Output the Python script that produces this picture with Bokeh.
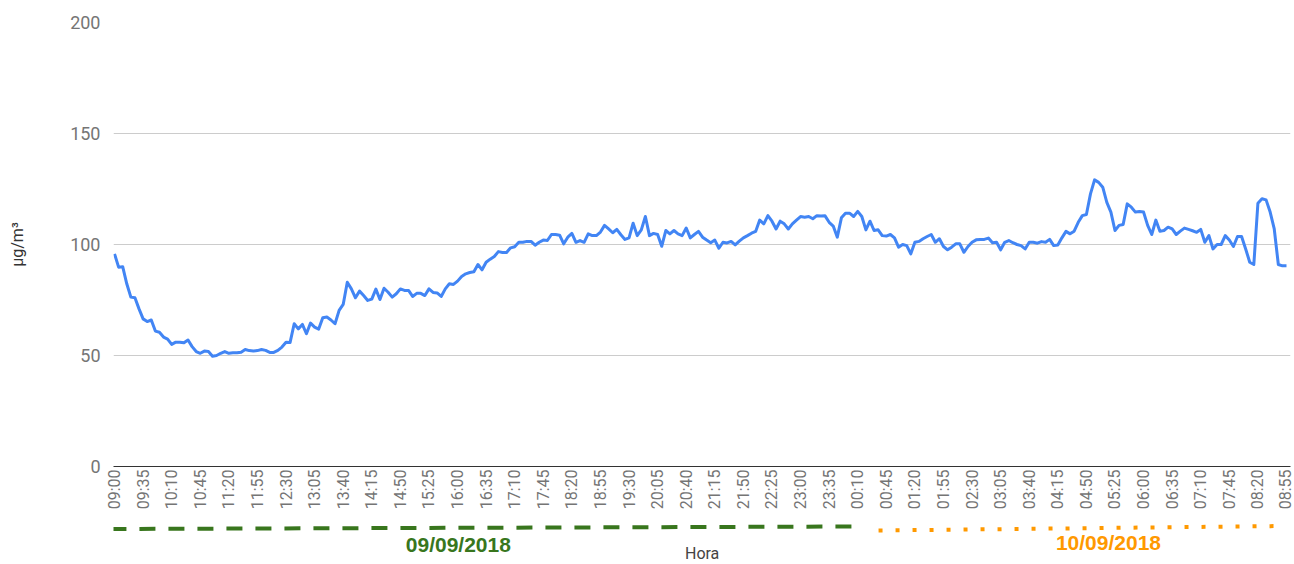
import math
from bokeh.plotting import figure
from bokeh.models import Range1d, FixedTicker, ColumnDataSource
from bokeh.layouts import column
from bokeh.core.properties import value
from bokeh.embed import file_html
from bokeh.resources import INLINE

# ---- data ----
tick_labels = ["09:00", "09:35", "10:10", "10:45", "11:20", "11:55", "12:30", "13:05",
               "13:40", "14:15", "14:50", "15:25", "16:00", "16:35", "17:10", "17:45",
               "18:20", "18:55", "19:30", "20:05", "20:40", "21:15", "21:50", "22:25",
               "23:00", "23:35", "00:10", "00:45", "01:20", "01:55", "02:30", "03:05",
               "03:40", "04:15", "04:50", "05:25", "06:00", "06:35", "07:10", "07:45",
               "08:20", "08:55"]
tick_every = 7  # one label every 7 samples (35 min at 5-min sampling)

pm_values = [
    95.8, 89.8, 90.0, 82.3, 76.3, 76.0, 71.0, 66.5, 65.3, 66.0,
    61.0, 60.5, 58.3, 57.4, 55.0, 56.0, 56.0, 55.7, 57.0, 54.0,
    51.8, 51.0, 52.0, 51.8, 49.7, 50.0, 51.0, 51.8, 51.0, 51.2,
    51.2, 51.5, 52.7, 52.2, 52.0, 52.2, 52.7, 52.3, 51.4, 51.4,
    52.3, 53.8, 56.0, 55.9, 64.3, 62.0, 64.0, 59.8, 64.6, 62.8,
    61.9, 67.0, 67.3, 66.0, 64.3, 70.3, 73.0, 83.0, 80.0, 76.0,
    79.0, 77.0, 74.8, 75.4, 79.9, 75.2, 80.3, 78.5, 76.3, 77.8,
    80.0, 79.3, 79.3, 76.6, 78.0, 78.0, 77.0, 80.0, 78.4, 78.2,
    76.6, 80.0, 82.3, 82.0, 83.5, 85.6, 86.8, 87.4, 87.7, 91.0,
    88.6, 92.0, 93.4, 94.6, 96.8, 96.4, 96.4, 98.5, 99.0, 101.0,
    101.0, 101.4, 101.4, 99.7, 101.0, 102.0, 101.8, 104.5, 104.5, 104.2,
    100.3, 103.3, 105.0, 101.0, 101.8, 101.0, 104.8, 104.0, 104.0, 105.6,
    108.6, 107.0, 105.3, 106.8, 104.4, 102.3, 103.0, 109.6, 104.0, 106.6,
    112.6, 104.0, 105.0, 104.5, 99.2, 106.3, 104.8, 106.3, 104.8, 104.0,
    107.4, 103.0, 104.5, 105.9, 103.3, 102.0, 100.8, 102.0, 98.3, 101.0,
    100.7, 101.4, 99.8, 101.5, 103.0, 104.0, 105.1, 105.9, 111.0, 109.3,
    113.0, 110.5, 107.0, 110.5, 109.3, 107.0, 109.3, 111.0, 112.6, 112.3,
    112.6, 111.6, 113.0, 112.8, 112.9, 110.0, 108.3, 103.3, 112.0, 114.1,
    114.1, 112.6, 114.9, 112.6, 106.6, 110.5, 106.3, 106.6, 104.0, 103.8,
    104.5, 103.0, 98.8, 100.0, 99.5, 95.8, 101.0, 101.4, 102.6, 103.6,
    104.5, 101.0, 102.6, 99.1, 97.6, 98.8, 100.3, 100.3, 96.5, 99.1,
    101.0, 102.1, 102.3, 102.3, 102.9, 100.8, 101.0, 97.6, 101.0, 101.8,
    100.8, 100.0, 99.5, 98.0, 101.0, 101.0, 100.6, 101.3, 101.0, 102.3,
    99.5, 99.8, 103.0, 105.9, 104.8, 106.0, 110.0, 113.0, 113.5, 122.8,
    129.1, 128.0, 125.8, 119.0, 114.6, 106.3, 108.6, 109.0, 118.3, 116.8,
    114.6, 114.9, 114.6, 108.6, 104.5, 111.0, 106.0, 106.3, 107.8, 107.0,
    104.5, 106.0, 107.4, 106.8, 106.2, 105.5, 106.8, 101.0, 104.0, 98.0,
    100.0, 100.0, 104.0, 102.0, 99.1, 103.6, 103.6, 98.0, 92.0, 91.0,
    118.6, 120.6, 120.1, 114.6, 107.0, 91.0, 90.4, 90.4,
]

y_ticks = [0, 50, 100, 150, 200]
day_labels = ["09/09/2018", "10/09/2018"]
day_colors = ["#38761d", "#ff9900"]
y_title = "µg/m³"
x_title = "Hora"

# ---- main chart ----
n = len(pm_values)
xs = list(range(n))
x_range = Range1d(-0.25, (n - 1) + 0.98)

p = figure(width=1294, height=520, x_range=x_range, y_range=Range1d(0, 200),
           output_backend="svg", toolbar_location=None,
           min_border_left=113, min_border_right=4, min_border_top=22, min_border_bottom=54)
p.outline_line_color = None
p.background_fill_color = "white"
p.border_fill_color = "white"

src = ColumnDataSource(dict(x=xs, y=pm_values))
p.line("x", "y", source=src, line_color="#4285f4", line_width=3, line_join="round")

# y axis
p.yaxis.ticker = FixedTicker(ticks=y_ticks)
p.yaxis.axis_line_color = None
p.yaxis.major_tick_line_color = None
p.yaxis.minor_tick_line_color = None
p.yaxis.major_tick_out = 0
p.yaxis.major_label_standoff = 13
p.yaxis.major_label_text_font = "Roboto"
p.yaxis.major_label_text_font_size = "18px"
p.yaxis.major_label_text_color = "#757575"
p.yaxis.axis_label = y_title
p.yaxis.axis_label_text_font = "Roboto"
p.yaxis.axis_label_text_font_size = "16px"
p.yaxis.axis_label_text_font_style = "normal"
p.yaxis.axis_label_text_color = "#333333"
p.yaxis.axis_label_standoff = 40
p.ygrid.grid_line_color = "#cccccc"
p.ygrid.grid_line_width = 1
p.ygrid.ticker = FixedTicker(ticks=y_ticks)

# x axis
tick_pos = [i * tick_every for i in range(len(tick_labels))]
p.xaxis.ticker = FixedTicker(ticks=tick_pos)
p.xaxis.major_label_overrides = {pos: lab for pos, lab in zip(tick_pos, tick_labels)}
p.xaxis.major_label_orientation = math.pi / 2
p.xaxis.major_tick_line_color = None
p.xaxis.minor_tick_line_color = None
p.xaxis.major_tick_out = 0
p.xaxis.major_tick_in = 0
p.xaxis.major_label_standoff = 3
p.xaxis.major_label_text_font = "Roboto"
p.xaxis.major_label_text_font_size = "16px"
p.xaxis.major_label_text_color = "#757575"
p.xaxis.axis_line_color = "#333333"
p.xaxis.axis_line_width = 1
p.xgrid.grid_line_color = None

# ---- day annotation strip ----
q = figure(width=1294, height=44, x_range=x_range, y_range=Range1d(0, 44),
           output_backend="svg", toolbar_location=None,
           x_axis_type=None, y_axis_type=None,
           min_border_left=113, min_border_right=4, min_border_top=0, min_border_bottom=0)
q.outline_line_color = None
q.grid.visible = False
q.background_fill_color = "white"
q.border_fill_color = "white"

q.line(x=[-1.0, 180.7], y=[35.5, 38.0], line_color=day_colors[0], line_width=4,
       line_dash="16 13")
q.line(x=[187.1, 286.3], y=[34.0, 38.5], line_color=day_colors[1], line_width=4,
       line_dash="4 13")

q.text(x=[84.2], y=[9.0], text=[day_labels[0]], text_color=day_colors[0],
       text_font=value("Liberation Sans"), text_font_style="bold", text_font_size="21px",
       text_align="center", text_baseline="bottom")
q.text(x=[243.4], y=[11.0], text=[day_labels[1]], text_color=day_colors[1],
       text_font=value("Liberation Sans"), text_font_style="bold", text_font_size="21px",
       text_align="center", text_baseline="bottom")
q.text(x=[(n - 1) / 2.0 + 0.4], y=[11.0], text=[x_title], text_color="#444444",
       text_font=value("Roboto"), text_font_size="16px",
       text_align="center", text_baseline="middle")

layout = column(p, q, spacing=0)
open("out.html", "w").write(file_html(layout, INLINE))
